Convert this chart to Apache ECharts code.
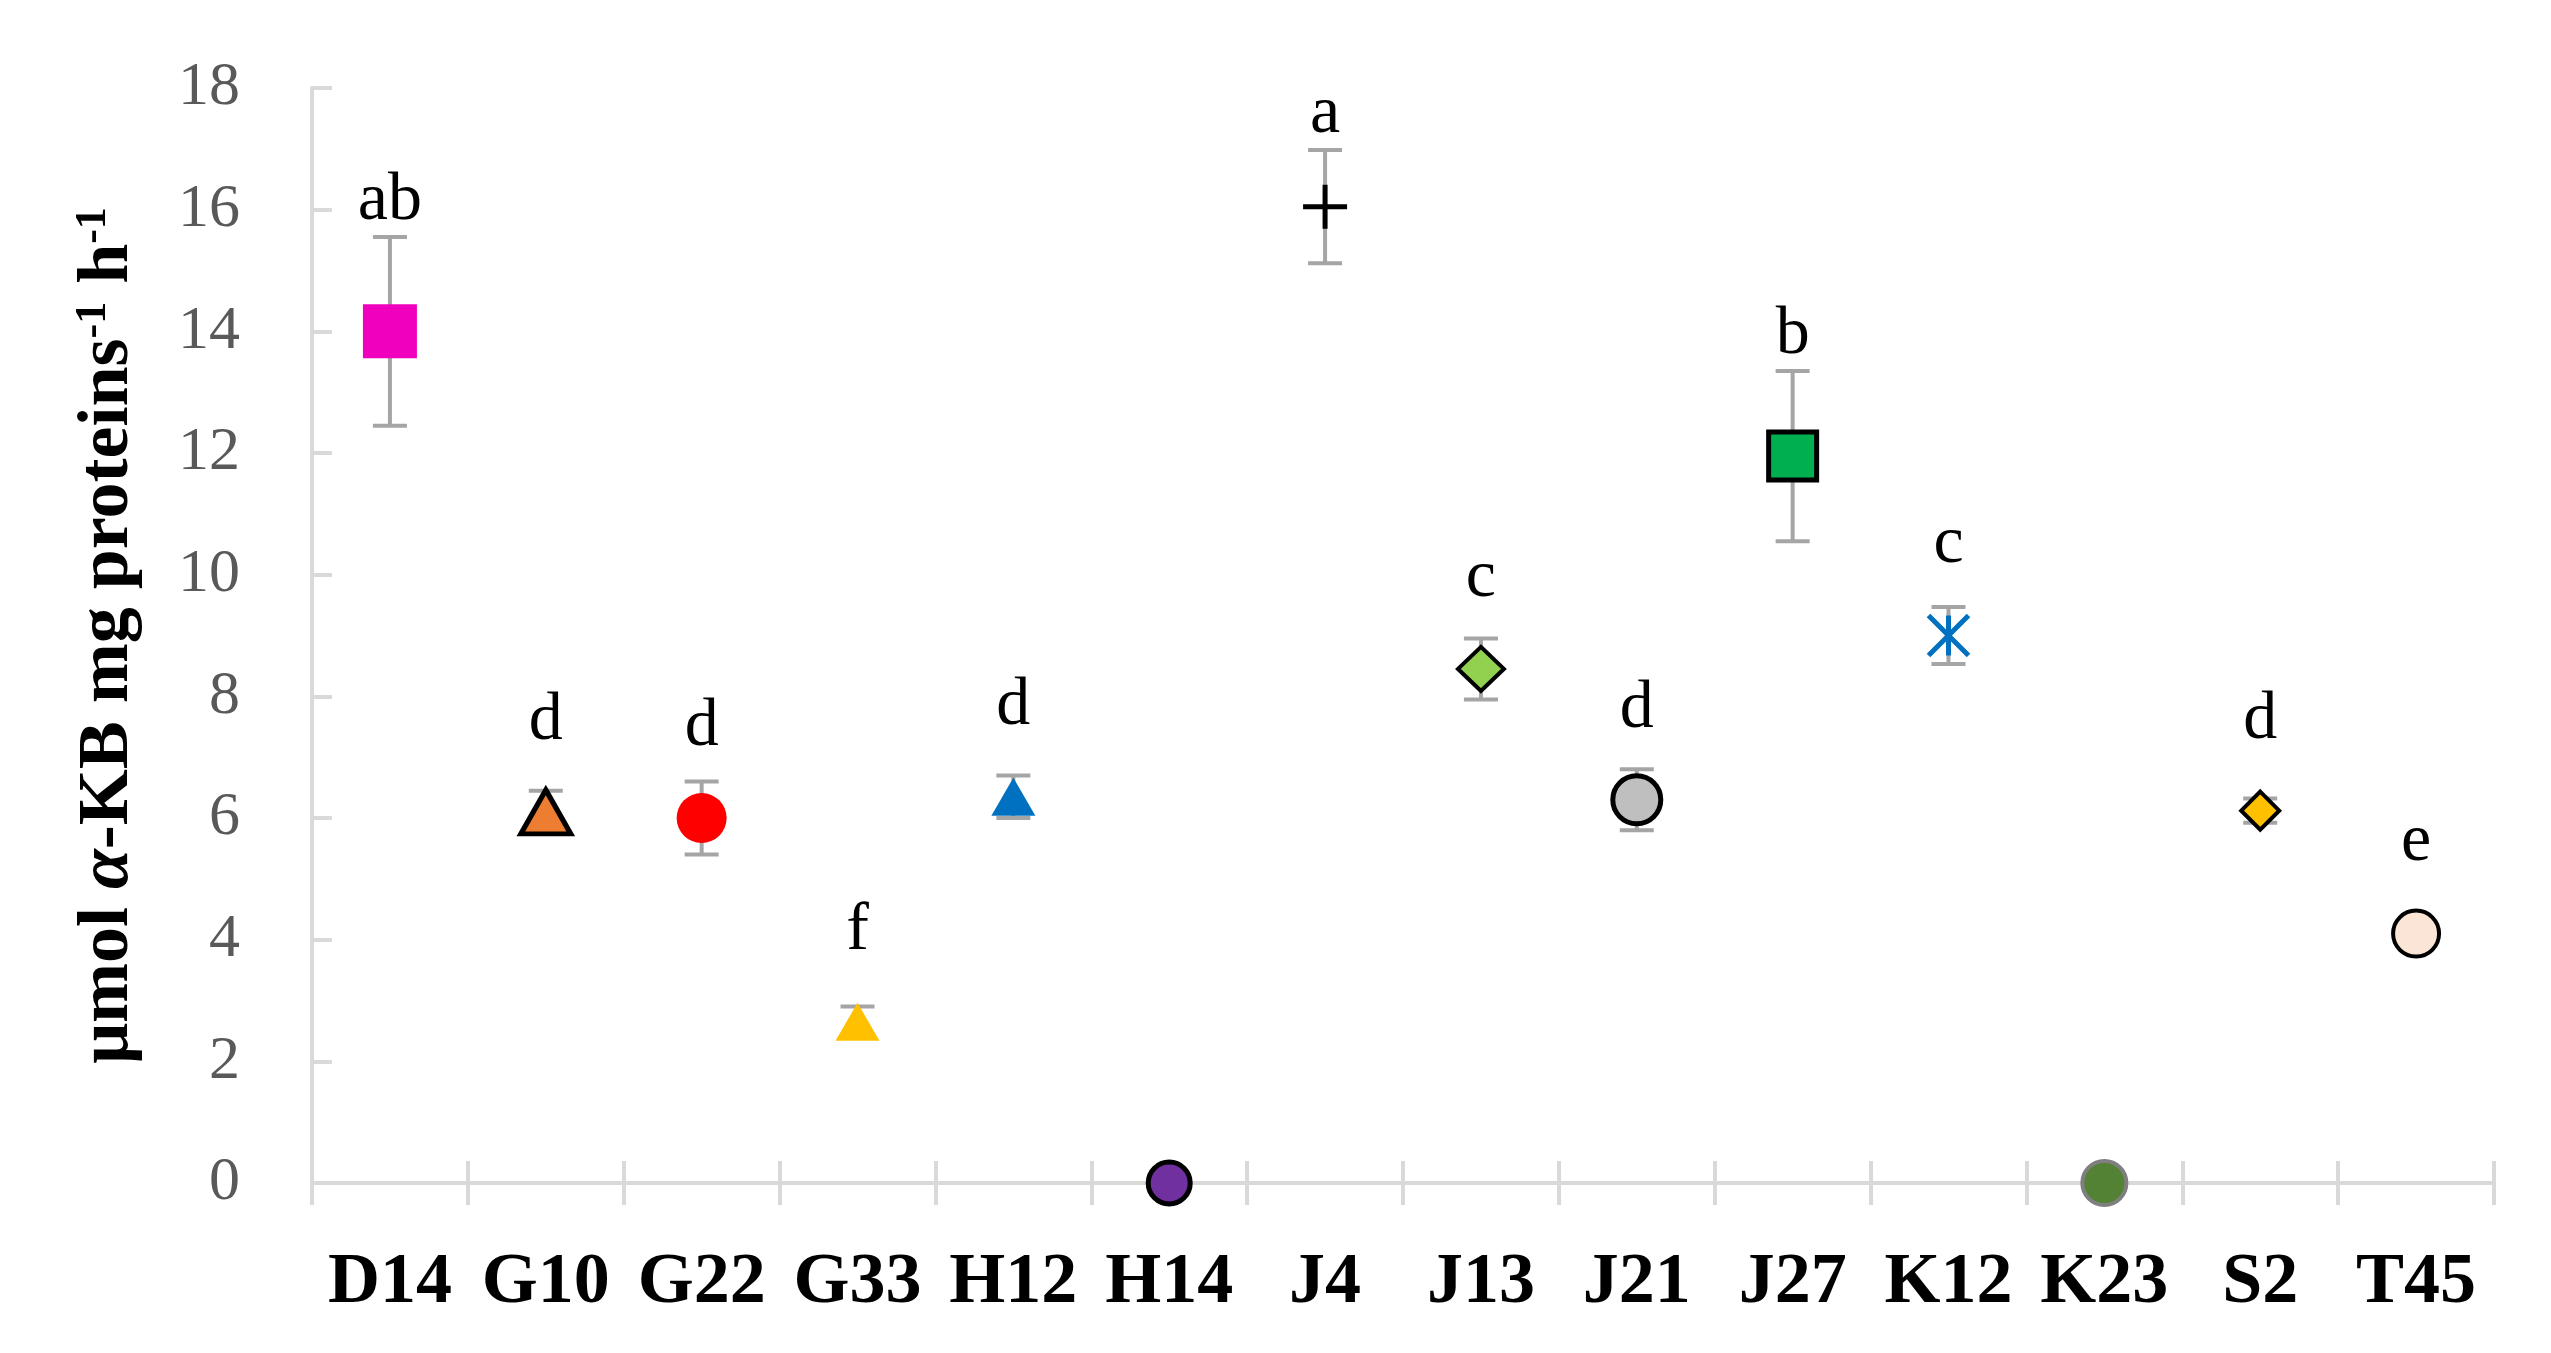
<!DOCTYPE html>
<html>
<head>
<meta charset="utf-8">
<script src="https://cdn.jsdelivr.net/npm/echarts@6/dist/echarts.min.js"></script>
<style>
  html, body { margin: 0; padding: 0; background: #fff; }
  #chart { width: 2551px; height: 1353px; }
</style>
</head>
<body>
<div id="chart"></div>
<script>
// strains on the x axis
const strains = ['D14', 'G10', 'G22', 'G33', 'H12', 'H14', 'J4', 'J13', 'J21', 'J27', 'K12', 'K23', 'S2', 'T45']
// mean activity (µmol α-KB mg proteins-1 h-1)
const activity = [14.0, 6.1, 6.0, 2.65, 6.35, 0, 16.05, 8.45, 6.3, 11.95, 9.0, 0, 6.12, 4.1]
// standard deviation
const errors = [1.55, 0.35, 0.6, 0.25, 0.35, 0, 0.93, 0.5, 0.5, 1.4, 0.47, 0, 0.2, 0.1]
// significance letters
const letters = ['ab', 'd', 'd', 'f', 'd', '', 'a', 'c', 'd', 'b', 'c', '', 'd', 'e']

// marker look for each strain (same order as strains)
const markers = [
  { symbol: 'rect', size: [54, 54], color: '#F000BE' },
  { symbol: 'triangle', size: [50, 44], color: '#ED7D31', border: '#000', bw: 5 },
  { symbol: 'circle', size: [50, 50], color: '#FF0000' },
  { symbol: 'triangle', size: [44, 38], color: '#FFC000' },
  { symbol: 'triangle', size: [44, 38], color: '#0070C0' },
  { symbol: 'circle', size: [42, 42], color: '#7030A0', border: '#000', bw: 5 },
  { symbol: 'path://M5,0L5,10M0,5L10,5', size: [44, 44], color: 'none', border: '#000', bw: 5 },
  { symbol: 'diamond', size: [46, 44], color: '#92D050', border: '#000', bw: 4 },
  { symbol: 'circle', size: [48, 48], color: '#BFBFBF', border: '#000', bw: 5 },
  { symbol: 'rect', size: [48, 48], color: '#00B050', border: '#000', bw: 5 },
  { symbol: 'path://M0,0L10,10M10,0L0,10M5,0L5,10', size: [40, 40], color: 'none', border: '#0070C0', bw: 5 },
  { symbol: 'circle', size: [44, 44], color: '#548235', border: '#7F7F7F', bw: 4 },
  { symbol: 'diamond', size: [38, 38], color: '#FFC000', border: '#000', bw: 4 },
  { symbol: 'circle', size: [46, 46], color: '#FBE5D6', border: '#000', bw: 4 }
]

const serif = '"Liberation Serif", "DejaVu Serif", serif'
const axisGray = '#D9D9D9'

const chart = echarts.init(document.getElementById('chart'))

const option = {
  backgroundColor: '#fff',
  animation: false,
  grid: { left: 312, right: 57, top: 88, bottom: 170 },
  xAxis: [
    {
      type: 'category',
      data: strains,
      axisLine: { lineStyle: { color: axisGray, width: 4 } },
      axisTick: { show: true, interval: 0, inside: false, length: 22, lineStyle: { color: axisGray, width: 4 } },
      axisLabel: { interval: 0, color: '#000', fontFamily: serif, fontWeight: 'bold', fontSize: 72, margin: 64 }
    },
    {
      // second copy only for the inner half of the crossing ticks
      type: 'category',
      data: strains,
      position: 'bottom',
      axisLine: { show: false },
      axisTick: { show: true, interval: 0, inside: true, length: 22, lineStyle: { color: axisGray, width: 4 } },
      axisLabel: { show: false }
    }
  ],
  yAxis: {
    type: 'value',
    min: 0,
    max: 18,
    interval: 2,
    splitLine: { show: false },
    axisLine: { show: true, lineStyle: { color: axisGray, width: 4 } },
    axisTick: { show: true, inside: true, length: 20, lineStyle: { color: axisGray, width: 4 } },
    axisLabel: { color: '#595959', fontFamily: serif, fontSize: 62, margin: 72 },
    name: '{t|μmol }{i|α}{t|-KB mg proteins}{s|-1}{t| h}{s|-1}',
    nameLocation: 'middle',
    nameRotate: 90,
    nameGap: 168,
    nameTextStyle: {
      rich: {
        t: { fontFamily: serif, fontWeight: 'bold', fontSize: 72, color: '#000', lineHeight: 72 },
        i: { fontFamily: serif, fontWeight: 'bold', fontStyle: 'italic', fontSize: 72, color: '#000', lineHeight: 72 },
        s: { fontFamily: serif, fontWeight: 'bold', fontSize: 44, color: '#000', lineHeight: 44, verticalAlign: 'top' }
      }
    }
  },
  series: [
    {
      // error bars and significance letters
      type: 'custom',
      xAxisIndex: 0,
      z: 1,
      data: activity.map((v, i) => [i, v, errors[i]]),
      renderItem(params, api) {
        const i = api.value(0)
        const v = api.value(1)
        const e = api.value(2)
        const center = api.coord([i, v])
        const top = api.coord([i, v + e])
        const bot = api.coord([i, v - e])
        const cap = 17
        const children = []
        const lineStyle = { stroke: '#A5A5A5', lineWidth: 4 }
        if (e > 0) {
          children.push(
            { type: 'line', shape: { x1: top[0], y1: top[1], x2: bot[0], y2: bot[1] }, style: lineStyle },
            { type: 'line', shape: { x1: top[0] - cap, y1: top[1], x2: top[0] + cap, y2: top[1] }, style: lineStyle },
            { type: 'line', shape: { x1: bot[0] - cap, y1: bot[1], x2: bot[0] + cap, y2: bot[1] }, style: lineStyle }
          )
        }
        const letter = letters[params.dataIndex]
        if (letter) {
          // letter sits above the marker, or above the error bar when that is taller
          const baseline = Math.min(center[1] - 78, top[1] - 23)
          children.push({
            type: 'text',
            x: center[0],
            y: baseline + 21,
            style: {
              text: letter,
              fontFamily: serif,
              fontSize: 68,
              fill: '#000',
              align: 'center',
              verticalAlign: 'bottom'
            }
          })
        }
        return { type: 'group', children }
      }
    },
    {
      type: 'scatter',
      xAxisIndex: 0,
      z: 2,
      data: activity.map((v, i) => {
        const m = markers[i]
        return {
          value: [i, v],
          symbol: m.symbol,
          symbolSize: m.size,
          itemStyle: {
            color: m.color,
            borderColor: m.border || m.color,
            borderWidth: m.bw || 0,
            opacity: 1
          }
        }
      })
    }
  ]
}

chart.setOption(option)
window.addEventListener('resize', () => {
  chart.resize()
})
</script>
</body>
</html>
